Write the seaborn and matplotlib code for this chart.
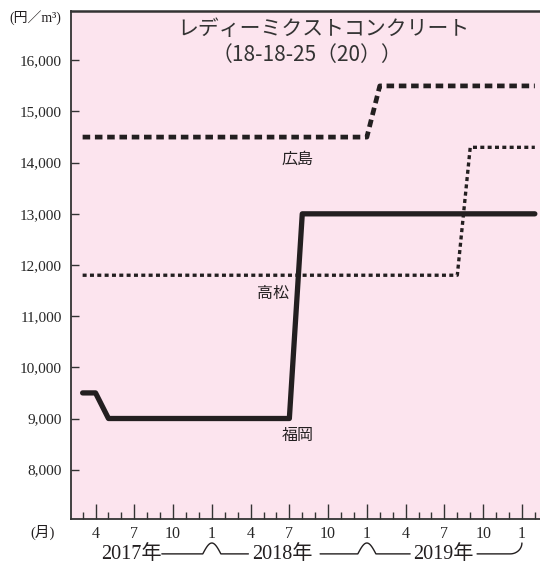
import numpy as np
import pandas as pd
import matplotlib
matplotlib.use("Agg")
import matplotlib.pyplot as plt
import matplotlib.transforms as mtransforms
import seaborn as sns

# months counted from Jan 2017 = 0
hiroshima_month = [2, 24, 25, 37]
hiroshima_price = [14500, 14500, 15500, 15500]

takamatsu_month = [2, 31, 32, 37]
takamatsu_price = [11800, 11800, 14300, 14300]

fukuoka_month = [2, 3, 4, 18, 19, 37]
fukuoka_price = [9500, 9500, 9000, 9000, 13000, 13000]

y_ticks = [8000, 9000, 10000, 11000, 12000, 13000, 14000, 15000, 16000]
major_months = [3, 6, 9, 12, 15, 18, 21, 24, 27, 30, 33, 36]
month_labels = ["4", "7", "10", "1", "4", "7", "10", "1", "4", "7", "10", "1"]
year_labels = ["2017年", "2018年", "2019年"]
year_starts = [12, 24, 36]

title1 = "レディーミクストコンクリート"
title2 = "（18-18-25（20））"

sns.set_style("ticks")
plt.rcParams["font.family"] = ["Noto Sans CJK JP", "DejaVu Sans"]
SERIF = ["Liberation Serif", "Noto Sans CJK JP"]
INK = "#231f20"

fig = plt.figure(figsize=(5.4, 5.64), dpi=100)
ax = fig.add_axes([71 / 540, 1 - 519.3 / 564, 1 - 71 / 540, (519.3 - 10.7) / 564])
ax.set_facecolor("#fce4ee")

df_h = pd.DataFrame({"month": hiroshima_month, "price": hiroshima_price})
df_t = pd.DataFrame({"month": takamatsu_month, "price": takamatsu_price})
df_f = pd.DataFrame({"month": fukuoka_month, "price": fukuoka_price})

sns.lineplot(data=df_h, x="month", y="price", ax=ax, color=INK, lw=3.4,
             estimator=None, sort=False)
ax.lines[-1].set_dashes((1.6, 1.0))
sns.lineplot(data=df_t, x="month", y="price", ax=ax, color=INK, lw=2.4,
             estimator=None, sort=False)
ax.lines[-1].set_dashes((1.2, 1.0))
sns.lineplot(data=df_f, x="month", y="price", ax=ax, color=INK, lw=3.8,
             estimator=None, sort=False)
ax.lines[-1].set_solid_capstyle("round")

ax.set_xlim(1.1, 37.4)
ax.set_ylim(7030, 16970)
ax.set_xlabel("")
ax.set_ylabel("")

ax.set_yticks(y_ticks)
ax.set_yticklabels([f"{v:,}" for v in y_ticks], family=SERIF, fontsize=11)
ax.tick_params(axis="y", direction="in", length=6, width=1, color="#333333", pad=6.5)

ax.set_xticks(major_months)
ax.set_xticklabels(month_labels, family=SERIF, fontsize=11.5)
ax.set_xticks(range(2, 38), minor=True)
ax.tick_params(axis="x", which="major", direction="in", length=10.8, width=1,
               color="#333333", pad=5)
ax.tick_params(axis="x", which="minor", direction="in", length=5.4, width=1,
               color="#333333")

for s in ["left", "bottom", "top"]:
    ax.spines[s].set_color("#333333")
    ax.spines[s].set_linewidth(1.3)
ax.spines["top"].set_linewidth(1.8)
ax.spines["right"].set_visible(False)

# titles and series labels
ax.text(0.539, 0.964, title1, transform=ax.transAxes, ha="center", va="center",
        fontsize=15, color="#333333")
ax.text(0.503, 0.913, title2, transform=ax.transAxes, ha="center", va="center",
        fontsize=15, color="#333333")
ax.text(18.64, 14072, "広島", ha="center", va="center", fontsize=11.5, color=INK)
ax.text(16.7, 11453, "高松", ha="center", va="center", fontsize=11.5, color=INK)
ax.text(18.64, 8670, "福岡", ha="center", va="center", fontsize=11.5, color=INK)

fig.text(35 / 540, 1 - 18 / 564, "(円／m³)", family=SERIF, fontsize=10,
         ha="center", va="center", color=INK)
fig.text(43 / 540, 1 - 532 / 564, "(月)", family=SERIF, fontsize=10.5,
         ha="center", va="center", color=INK)

# year labels with brackets under the axis
trans = mtransforms.blended_transform_factory(ax.transData, ax.transAxes)
base, peak = -0.068, -0.0466
for lab, cx in zip(year_labels, [5.76, 17.48, 29.9]):
    ax.text(cx, -0.070, lab, transform=trans, ha="center", va="center",
            family=SERIF, fontsize=14.5, color=INK, clip_on=False)

t = np.linspace(0, 1, 12)
rise = base + (peak - base) * np.sin(t * np.pi / 2)
for x0, x1, j in [(8.13, 14.83, year_starts[0]), (20.38, 27.35, year_starts[1])]:
    xs = np.concatenate([[x0], j - 0.7 + 0.7 * t, j + 0.7 * t, [x1]])
    ys = np.concatenate([[base], rise, rise[::-1], [base]])
    ax.plot(xs, ys, transform=trans, color=INK, lw=1.0, clip_on=False)
end = year_starts[2]
xs = np.concatenate([[32.53], end - 0.9 + 0.9 * np.sin(t * np.pi / 2)])
ys = np.concatenate([[base], base + (peak - base) * (1 - np.cos(t * np.pi / 2))])
ax.plot(xs, ys, transform=trans, color=INK, lw=1.0, clip_on=False)

fig.savefig("out.png", dpi=100, facecolor="white")
